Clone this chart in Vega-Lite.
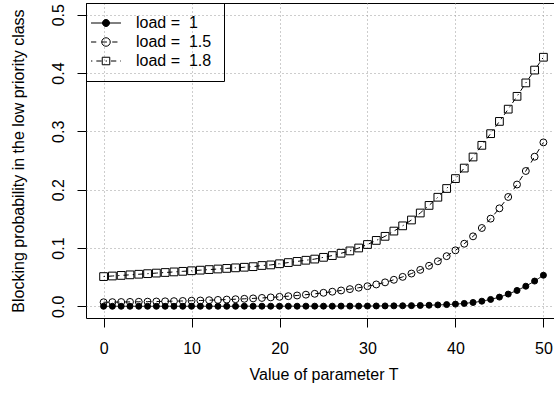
{
  "$schema": "https://vega.github.io/schema/vega-lite/v6.json",
  "autosize": {"type": "none"},
  "padding": {"left": 86, "top": 3, "right": 0, "bottom": 85},
  "width": 475,
  "height": 315,
  "background": "white",
  "config": {
    "view": {"stroke": "black", "strokeWidth": 1},
    "font": "Liberation Sans",
    "axis": {
      "labelFont": "Liberation Sans",
      "labelFontSize": 16,
      "labelColor": "black",
      "titleFont": "Liberation Sans",
      "titleFontSize": 16,
      "titleFontWeight": "normal",
      "titleColor": "black",
      "tickColor": "black",
      "tickSize": 9,
      "domain": false,
      "grid": true,
      "gridColor": "#9a9a9a",
      "gridDash": [1, 3],
      "labelOverlap": false,
      "labelFlush": false
    },
    "legend": {
      "labelFont": "Liberation Sans",
      "labelFontSize": 16,
      "labelColor": "black"
    }
  },
  "data": {
    "values": [
      {"T": 0, "load": 1, "p": 0.0001}, {"T": 1, "load": 1, "p": 0.0001}, {"T": 2, "load": 1, "p": 0.0001},
      {"T": 3, "load": 1, "p": 0.0001}, {"T": 4, "load": 1, "p": 0.0001}, {"T": 5, "load": 1, "p": 0.0001},
      {"T": 6, "load": 1, "p": 0.0001}, {"T": 7, "load": 1, "p": 0.0001}, {"T": 8, "load": 1, "p": 0.0001},
      {"T": 9, "load": 1, "p": 0.0001}, {"T": 10, "load": 1, "p": 0.0001}, {"T": 11, "load": 1, "p": 0.0001},
      {"T": 12, "load": 1, "p": 0.0001}, {"T": 13, "load": 1, "p": 0.0001}, {"T": 14, "load": 1, "p": 0.0001},
      {"T": 15, "load": 1, "p": 0.0001}, {"T": 16, "load": 1, "p": 0.0002}, {"T": 17, "load": 1, "p": 0.0002},
      {"T": 18, "load": 1, "p": 0.0002}, {"T": 19, "load": 1, "p": 0.0002}, {"T": 20, "load": 1, "p": 0.0002},
      {"T": 21, "load": 1, "p": 0.0002}, {"T": 22, "load": 1, "p": 0.0002}, {"T": 23, "load": 1, "p": 0.0003},
      {"T": 24, "load": 1, "p": 0.0003}, {"T": 25, "load": 1, "p": 0.0003}, {"T": 26, "load": 1, "p": 0.0003},
      {"T": 27, "load": 1, "p": 0.0004}, {"T": 28, "load": 1, "p": 0.0004}, {"T": 29, "load": 1, "p": 0.0004},
      {"T": 30, "load": 1, "p": 0.0005}, {"T": 31, "load": 1, "p": 0.0006}, {"T": 32, "load": 1, "p": 0.0007},
      {"T": 33, "load": 1, "p": 0.0008}, {"T": 34, "load": 1, "p": 0.0010}, {"T": 35, "load": 1, "p": 0.0012},
      {"T": 36, "load": 1, "p": 0.0015}, {"T": 37, "load": 1, "p": 0.0019}, {"T": 38, "load": 1, "p": 0.0024},
      {"T": 39, "load": 1, "p": 0.0030}, {"T": 40, "load": 1, "p": 0.0038}, {"T": 41, "load": 1, "p": 0.0050},
      {"T": 42, "load": 1, "p": 0.0066}, {"T": 43, "load": 1, "p": 0.0088}, {"T": 44, "load": 1, "p": 0.0118},
      {"T": 45, "load": 1, "p": 0.0158}, {"T": 46, "load": 1, "p": 0.0210}, {"T": 47, "load": 1, "p": 0.0272},
      {"T": 48, "load": 1, "p": 0.0345}, {"T": 49, "load": 1, "p": 0.0433}, {"T": 50, "load": 1, "p": 0.0533},

      {"T": 0, "load": 1.5, "p": 0.0070}, {"T": 1, "load": 1.5, "p": 0.0072}, {"T": 2, "load": 1.5, "p": 0.0074},
      {"T": 3, "load": 1.5, "p": 0.0076}, {"T": 4, "load": 1.5, "p": 0.0078}, {"T": 5, "load": 1.5, "p": 0.0080},
      {"T": 6, "load": 1.5, "p": 0.0083}, {"T": 7, "load": 1.5, "p": 0.0086}, {"T": 8, "load": 1.5, "p": 0.0089},
      {"T": 9, "load": 1.5, "p": 0.0092}, {"T": 10, "load": 1.5, "p": 0.0096}, {"T": 11, "load": 1.5, "p": 0.0100},
      {"T": 12, "load": 1.5, "p": 0.0105}, {"T": 13, "load": 1.5, "p": 0.0110}, {"T": 14, "load": 1.5, "p": 0.0116},
      {"T": 15, "load": 1.5, "p": 0.0122}, {"T": 16, "load": 1.5, "p": 0.0129}, {"T": 17, "load": 1.5, "p": 0.0136},
      {"T": 18, "load": 1.5, "p": 0.0144}, {"T": 19, "load": 1.5, "p": 0.0153}, {"T": 20, "load": 1.5, "p": 0.0163},
      {"T": 21, "load": 1.5, "p": 0.0174}, {"T": 22, "load": 1.5, "p": 0.0186}, {"T": 23, "load": 1.5, "p": 0.0200},
      {"T": 24, "load": 1.5, "p": 0.0215}, {"T": 25, "load": 1.5, "p": 0.0232}, {"T": 26, "load": 1.5, "p": 0.0251},
      {"T": 27, "load": 1.5, "p": 0.0272}, {"T": 28, "load": 1.5, "p": 0.0295}, {"T": 29, "load": 1.5, "p": 0.0319},
      {"T": 30, "load": 1.5, "p": 0.0345}, {"T": 31, "load": 1.5, "p": 0.0375}, {"T": 32, "load": 1.5, "p": 0.0411},
      {"T": 33, "load": 1.5, "p": 0.0455}, {"T": 34, "load": 1.5, "p": 0.0505}, {"T": 35, "load": 1.5, "p": 0.0562},
      {"T": 36, "load": 1.5, "p": 0.0625}, {"T": 37, "load": 1.5, "p": 0.0695}, {"T": 38, "load": 1.5, "p": 0.0772},
      {"T": 39, "load": 1.5, "p": 0.0860}, {"T": 40, "load": 1.5, "p": 0.0960}, {"T": 41, "load": 1.5, "p": 0.1073},
      {"T": 42, "load": 1.5, "p": 0.1200}, {"T": 43, "load": 1.5, "p": 0.1343}, {"T": 44, "load": 1.5, "p": 0.1503},
      {"T": 45, "load": 1.5, "p": 0.1680}, {"T": 46, "load": 1.5, "p": 0.1875}, {"T": 47, "load": 1.5, "p": 0.2088},
      {"T": 48, "load": 1.5, "p": 0.2320}, {"T": 49, "load": 1.5, "p": 0.2565}, {"T": 50, "load": 1.5, "p": 0.2810},

      {"T": 0, "load": 1.8, "p": 0.051}, {"T": 1, "load": 1.8, "p": 0.052}, {"T": 2, "load": 1.8, "p": 0.053},
      {"T": 3, "load": 1.8, "p": 0.054}, {"T": 4, "load": 1.8, "p": 0.055}, {"T": 5, "load": 1.8, "p": 0.056},
      {"T": 6, "load": 1.8, "p": 0.057}, {"T": 7, "load": 1.8, "p": 0.058}, {"T": 8, "load": 1.8, "p": 0.059},
      {"T": 9, "load": 1.8, "p": 0.060}, {"T": 10, "load": 1.8, "p": 0.061}, {"T": 11, "load": 1.8, "p": 0.062},
      {"T": 12, "load": 1.8, "p": 0.063}, {"T": 13, "load": 1.8, "p": 0.064}, {"T": 14, "load": 1.8, "p": 0.065},
      {"T": 15, "load": 1.8, "p": 0.066}, {"T": 16, "load": 1.8, "p": 0.067}, {"T": 17, "load": 1.8, "p": 0.068},
      {"T": 18, "load": 1.8, "p": 0.070}, {"T": 19, "load": 1.8, "p": 0.071}, {"T": 20, "load": 1.8, "p": 0.073},
      {"T": 21, "load": 1.8, "p": 0.075}, {"T": 22, "load": 1.8, "p": 0.077}, {"T": 23, "load": 1.8, "p": 0.079},
      {"T": 24, "load": 1.8, "p": 0.081}, {"T": 25, "load": 1.8, "p": 0.084}, {"T": 26, "load": 1.8, "p": 0.087},
      {"T": 27, "load": 1.8, "p": 0.091}, {"T": 28, "load": 1.8, "p": 0.095}, {"T": 29, "load": 1.8, "p": 0.100},
      {"T": 30, "load": 1.8, "p": 0.106}, {"T": 31, "load": 1.8, "p": 0.113}, {"T": 32, "load": 1.8, "p": 0.120},
      {"T": 33, "load": 1.8, "p": 0.129}, {"T": 34, "load": 1.8, "p": 0.138}, {"T": 35, "load": 1.8, "p": 0.148},
      {"T": 36, "load": 1.8, "p": 0.160}, {"T": 37, "load": 1.8, "p": 0.173}, {"T": 38, "load": 1.8, "p": 0.187},
      {"T": 39, "load": 1.8, "p": 0.202}, {"T": 40, "load": 1.8, "p": 0.219}, {"T": 41, "load": 1.8, "p": 0.237},
      {"T": 42, "load": 1.8, "p": 0.256}, {"T": 43, "load": 1.8, "p": 0.276}, {"T": 44, "load": 1.8, "p": 0.296},
      {"T": 45, "load": 1.8, "p": 0.317}, {"T": 46, "load": 1.8, "p": 0.338}, {"T": 47, "load": 1.8, "p": 0.360},
      {"T": 48, "load": 1.8, "p": 0.383}, {"T": 49, "load": 1.8, "p": 0.405}, {"T": 50, "load": 1.8, "p": 0.427}
    ]
  },
  "layer": [
    {
      "mark": {"type": "line", "color": "black", "strokeWidth": 1},
      "encoding": {
        "x": {
          "field": "T", "type": "quantitative",
          "scale": {"domain": [-2, 52], "nice": false, "zero": false},
          "axis": {
            "title": "Value of parameter T",
            "values": [0, 10, 20, 30, 40, 50],
            "labelPadding": 13,
            "titlePadding": 10
          }
        },
        "y": {
          "field": "p", "type": "quantitative",
          "scale": {"domain": [-0.02, 0.52], "nice": false, "zero": false},
          "axis": {
            "title": "Blocking probability in the low priority class",
            "values": [0, 0.1, 0.2, 0.3, 0.4, 0.5],
            "format": ".1f",
            "labelAngle": -90,
            "labelAlign": "center",
            "labelBaseline": "alphabetic",
            "labelPadding": 14,
            "titlePadding": 24
          }
        },
        "strokeDash": {
          "field": "load", "type": "nominal",
          "scale": {"domain": [1, 1.5, 1.8], "range": [[1, 0], [5.3, 5.3], [1.3, 4, 5.3, 4]]},
          "legend": null
        }
      }
    },
    {
      "mark": {"type": "point", "filled": true, "stroke": "black", "strokeWidth": 1, "opacity": 1},
      "encoding": {
        "x": {"field": "T", "type": "quantitative"},
        "y": {"field": "p", "type": "quantitative"},
        "shape": {
          "field": "load", "type": "nominal",
          "scale": {"domain": [1, 1.5, 1.8], "range": ["circle", "circle", "square"]},
          "legend": null
        },
        "fill": {
          "field": "load", "type": "nominal",
          "scale": {"domain": [1, 1.5, 1.8], "range": ["black", "transparent", "transparent"]},
          "legend": null
        },
        "size": {
          "field": "load", "type": "nominal",
          "scale": {"domain": [1, 1.5, 1.8], "range": [36, 60, 58]},
          "legend": null
        }
      }
    },
    {
      "data": {"values": []},
      "mark": {"type": "point", "filled": true, "stroke": "black", "strokeWidth": 1, "opacity": 1},
      "encoding": {
        "shape": {
          "field": "load", "type": "nominal",
          "scale": {
            "domain": [1, 1.5, 1.8],
            "range": [
              "M-2.14,0H2.14M-0.5,0A0.5,0.5,0,1,0,0.5,0A0.5,0.5,0,1,0,-0.5,0Z",
              "M-2.14,0H-1.39M-0.63,0H0.13M0.89,0H1.64M-0.607,0A0.607,0.607,0,1,0,0.607,0A0.607,0.607,0,1,0,-0.607,0Z",
              "M-2.14,0H-1.95M-1.38,0H-0.62M-0.05,0H0.14M0.71,0H1.47M2.04,0H2.14M-0.536,-0.536H0.536V0.536H-0.536Z"
            ]
          },
          "legend": {
            "orient": "top-left",
            "offset": 0,
            "title": null,
            "padding": 12,
            "rowPadding": 3,
            "symbolSize": 196,
            "symbolStrokeWidth": 1,
            "labelOffset": 22,
            "strokeColor": "black",
            "labelExpr": "'load = \u00a0' + datum.label"
          }
        },
        "fill": {
          "field": "load", "type": "nominal",
          "scale": {"domain": [1, 1.5, 1.8], "range": ["black", "transparent", "transparent"]},
          "legend": {
            "orient": "top-left",
            "offset": 0,
            "title": null,
            "padding": 12,
            "rowPadding": 3,
            "symbolSize": 196,
            "symbolStrokeWidth": 1,
            "labelOffset": 22,
            "strokeColor": "black",
            "labelExpr": "'load = \u00a0' + datum.label"
          }
        }
      }
    }
  ],
  "resolve": {"scale": {"shape": "independent", "fill": "independent"}}
}
